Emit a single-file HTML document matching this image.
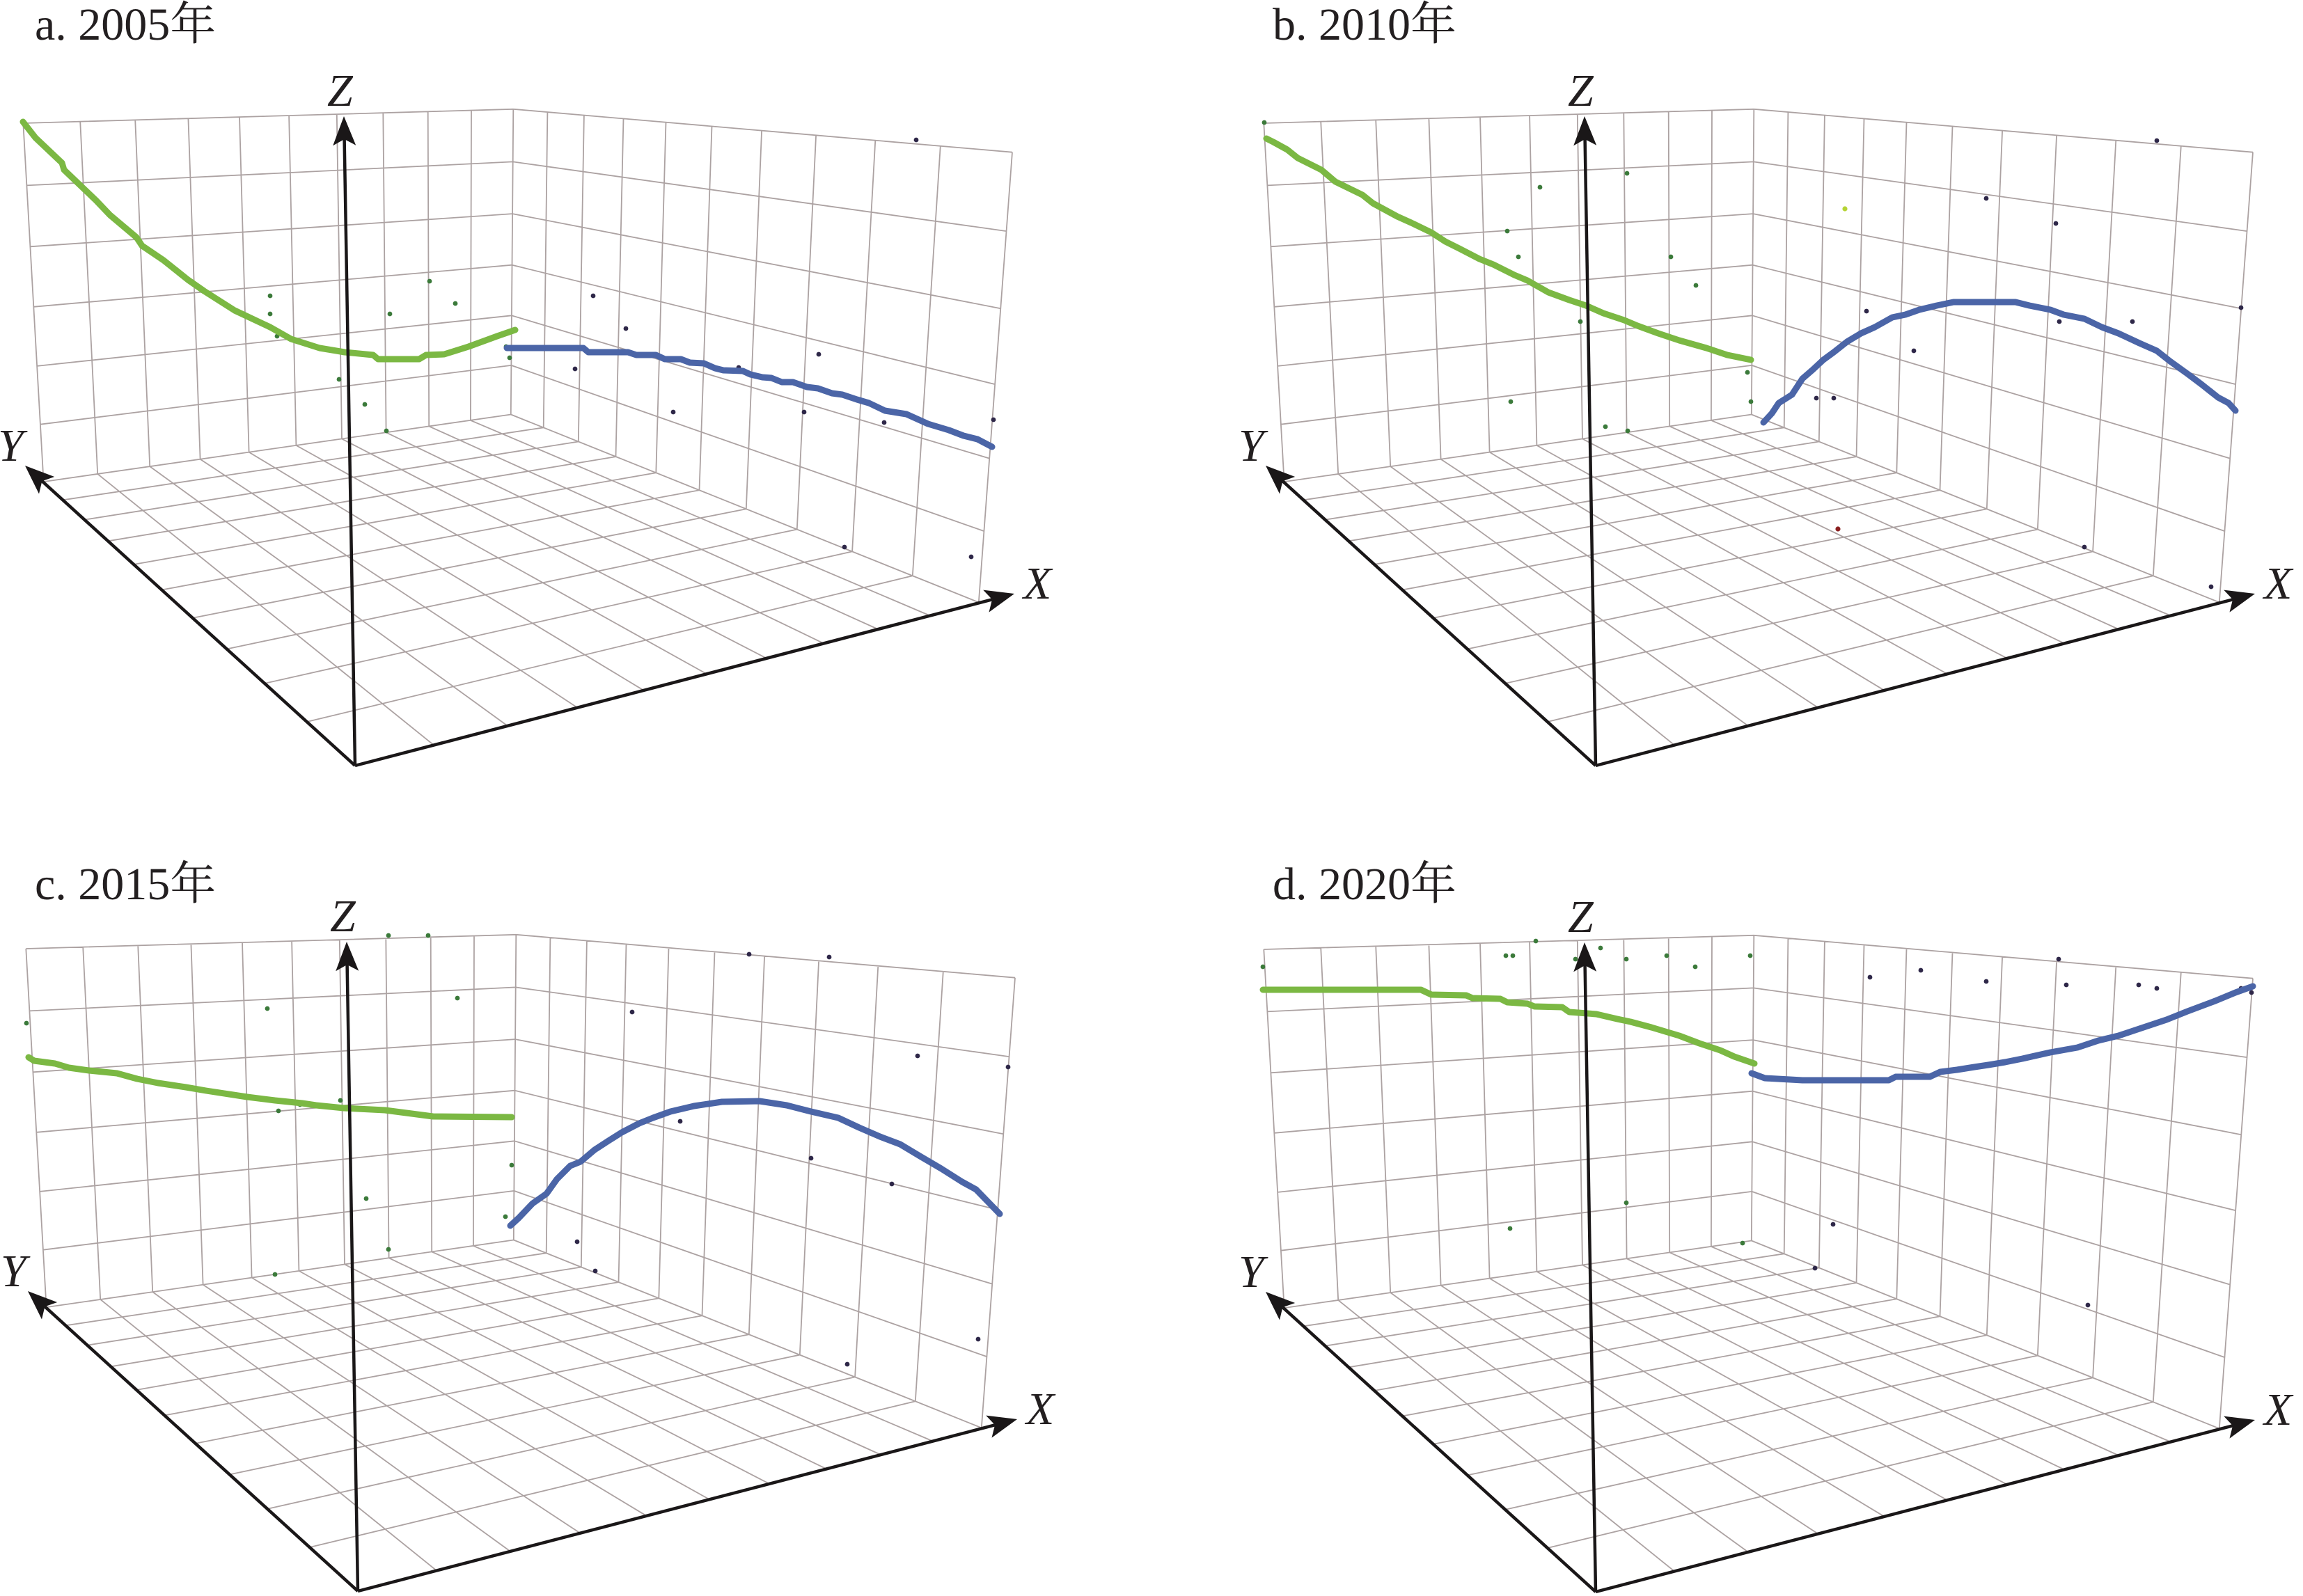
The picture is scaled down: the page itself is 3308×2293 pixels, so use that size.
<!DOCTYPE html>
<html><head><meta charset="utf-8">
<style>
html,body{margin:0;padding:0;background:#fff;}
svg{display:block;}
.t{font-family:"Liberation Serif","Noto Serif CJK SC",serif;font-size:66px;fill:#231f20;}
.ax{font-family:"Liberation Serif",serif;font-style:italic;font-size:66px;fill:#231f20;}
.g{fill:none;stroke:#7bb843;stroke-width:9;stroke-linejoin:round;stroke-linecap:round;}
.b{fill:none;stroke:#4b65a7;stroke-width:9;stroke-linejoin:round;stroke-linecap:round;}
.dg{fill:#3b7a3a;} .dn{fill:#2e2748;}
</style></head><body>
<svg id="s" width="3308" height="2293" viewBox="0 0 3308 2293" xmlns="http://www.w3.org/2000/svg">
<rect width="3308" height="2293" fill="#fff"/>
<g id="grids"></g>
<g id="dots">
<g class="dg">
<circle cx="388" cy="425" r="3.4"/><circle cx="388" cy="451" r="3.4"/><circle cx="398" cy="483" r="3.4"/><circle cx="434" cy="492" r="3.4"/><circle cx="560" cy="451" r="3.4"/><circle cx="617" cy="404" r="3.4"/><circle cx="654" cy="436" r="3.4"/><circle cx="487" cy="545" r="3.4"/><circle cx="524" cy="581" r="3.4"/><circle cx="555" cy="619" r="3.4"/><circle cx="727" cy="498" r="3.4"/><circle cx="732" cy="514" r="3.4"/>
<circle cx="1816" cy="176" r="3.4"/><circle cx="2337" cy="249" r="3.4"/><circle cx="2212" cy="269" r="3.4"/><circle cx="2165" cy="332" r="3.4"/><circle cx="2181" cy="369" r="3.4"/><circle cx="2400" cy="369" r="3.4"/><circle cx="2436" cy="410" r="3.4"/><circle cx="2270" cy="462" r="3.4"/><circle cx="2510" cy="535" r="3.4"/><circle cx="2515" cy="577" r="3.4"/><circle cx="2170" cy="577" r="3.4"/><circle cx="2306" cy="613" r="3.4"/><circle cx="2338" cy="619" r="3.4"/>
<circle cx="558" cy="1344" r="3.4"/><circle cx="615" cy="1344" r="3.4"/><circle cx="38" cy="1470" r="3.4"/><circle cx="384" cy="1449" r="3.4"/><circle cx="657" cy="1434" r="3.4"/><circle cx="489" cy="1581" r="3.4"/><circle cx="431" cy="1587" r="3.4"/><circle cx="400" cy="1596" r="3.4"/><circle cx="735" cy="1674" r="3.4"/><circle cx="526" cy="1722" r="3.4"/><circle cx="726" cy="1748" r="3.4"/><circle cx="558" cy="1795" r="3.4"/><circle cx="395" cy="1831" r="3.4"/>
<circle cx="1814" cy="1389" r="3.4"/><circle cx="2163" cy="1373" r="3.4"/><circle cx="2173" cy="1373" r="3.4"/><circle cx="2206" cy="1352" r="3.4"/><circle cx="2263" cy="1378" r="3.4"/><circle cx="2299" cy="1362" r="3.4"/><circle cx="2336" cy="1378" r="3.4"/><circle cx="2394" cy="1373" r="3.4"/><circle cx="2435" cy="1389" r="3.4"/><circle cx="2514" cy="1373" r="3.4"/><circle cx="2336" cy="1728" r="3.4"/><circle cx="2169" cy="1765" r="3.4"/><circle cx="2503" cy="1786" r="3.4"/>
</g>
<circle cx="2650" cy="300" r="3.6" fill="#b5d334"/>
<circle cx="2640" cy="760" r="3.6" fill="#8b2020"/>
<g class="dn">
<circle cx="1316" cy="201" r="3.4"/><circle cx="852" cy="425" r="3.4"/><circle cx="899" cy="472" r="3.4"/><circle cx="826" cy="530" r="3.4"/><circle cx="1176" cy="509" r="3.4"/><circle cx="1061" cy="528" r="3.4"/><circle cx="967" cy="592" r="3.4"/><circle cx="1155" cy="592" r="3.4"/><circle cx="1270" cy="607" r="3.4"/><circle cx="1427" cy="603" r="3.4"/><circle cx="1213" cy="786" r="3.4"/><circle cx="1395" cy="800" r="3.4"/>
<circle cx="3098" cy="202" r="3.4"/><circle cx="2853" cy="285" r="3.4"/><circle cx="2953" cy="321" r="3.4"/><circle cx="3219" cy="442" r="3.4"/><circle cx="2681" cy="447" r="3.4"/><circle cx="2958" cy="462" r="3.4"/><circle cx="3063" cy="462" r="3.4"/><circle cx="2749" cy="504" r="3.4"/><circle cx="2609" cy="572" r="3.4"/><circle cx="2634" cy="572" r="3.4"/><circle cx="2994" cy="786" r="3.4"/><circle cx="3176" cy="843" r="3.4"/>
<circle cx="1076" cy="1371" r="3.4"/><circle cx="1191" cy="1375" r="3.4"/><circle cx="908" cy="1454" r="3.4"/><circle cx="1318" cy="1517" r="3.4"/><circle cx="1448" cy="1533" r="3.4"/><circle cx="977" cy="1611" r="3.4"/><circle cx="1165" cy="1664" r="3.4"/><circle cx="1281" cy="1701" r="3.4"/><circle cx="829" cy="1784" r="3.4"/><circle cx="855" cy="1826" r="3.4"/><circle cx="1217" cy="1960" r="3.4"/><circle cx="1405" cy="1924" r="3.4"/>
<circle cx="2957" cy="1378" r="3.4"/><circle cx="2759" cy="1394" r="3.4"/><circle cx="2686" cy="1404" r="3.4"/><circle cx="2853" cy="1410" r="3.4"/><circle cx="2968" cy="1415" r="3.4"/><circle cx="3072" cy="1415" r="3.4"/><circle cx="3098" cy="1420" r="3.4"/><circle cx="3219" cy="1420" r="3.4"/><circle cx="3234" cy="1426" r="3.4"/><circle cx="2633" cy="1759" r="3.4"/><circle cx="2607" cy="1822" r="3.4"/><circle cx="2999" cy="1875" r="3.4"/>
</g>
</g>
<g id="curves">
<polyline class="g" points="33,175 51,198 89,234 92,244 138,288 158,309 196,341 204,353 235,374 270,402 293,418 337,446 388,470 418,487 459,500 495,506 536,510 543,516 602,516 612,510 638,509 673,498 714,483 740,474"/>
<polyline class="b" points="728,500 838,500 845,506 902,506 914,510 942,510 955,516 978,516 991,521 1011,522 1027,529 1039,532 1067,533 1078,538 1095,542 1108,543 1123,549 1139,549 1159,556 1175,558 1195,565 1210,567 1231,574 1248,579 1271,590 1302,595 1333,609 1363,618 1384,626 1404,631 1425,642"/>
<polyline class="g" points="1819,199 1829,204 1849,215 1864,227 1898,244 1918,261 1957,280 1972,292 2007,311 2027,320 2056,334 2076,347 2096,357 2125,372 2145,380 2175,395 2194,403 2224,420 2254,431 2278,439 2303,450 2333,460 2352,468 2382,479 2412,489 2451,500 2481,510 2515,517"/>
<polyline class="b" points="2533,607 2545,594 2555,579 2574,567 2589,544 2604,531 2619,517 2634,506 2653,491 2673,479 2693,470 2718,456 2737,452 2757,445 2782,439 2806,434 2895,434 2915,439 2945,445 2964,452 2994,458 3019,470 3043,479 3073,493 3098,504 3117,519 3142,537 3162,552 3186,571 3201,579 3211,590"/>
<polyline class="g" points="41,1519 49,1524 79,1528 99,1534 128,1538 168,1542 197,1550 227,1556 267,1562 296,1567 355,1576 395,1581 434,1585 454,1588 494,1592 553,1595 622,1604 735,1605"/>
<polyline class="b" points="733,1761 745,1750 765,1729 785,1715 800,1694 819,1675 834,1669 854,1652 874,1639 893,1627 918,1614 938,1606 963,1597 997,1589 1037,1583 1091,1582 1130,1588 1165,1597 1204,1606 1234,1620 1264,1633 1293,1644 1323,1662 1352,1679 1382,1698 1402,1709 1436,1744"/>
<polyline class="g" points="1814,1422 2041,1422 2056,1429 2106,1430 2115,1434 2155,1435 2165,1440 2194,1442 2204,1446 2244,1447 2254,1454 2293,1457 2323,1464 2342,1468 2372,1476 2392,1482 2412,1488 2441,1499 2471,1509 2491,1518 2520,1528"/>
<polyline class="b" points="2516,1542 2535,1549 2589,1552 2713,1552 2723,1547 2772,1547 2787,1540 2811,1537 2836,1533 2856,1530 2880,1526 2905,1521 2945,1512 2984,1505 3014,1495 3043,1488 3073,1478 3112,1465 3142,1453 3182,1438 3211,1426 3236,1417"/>
</g>
<g id="axes"></g>
<g id="labels">
<text class="t" x="50" y="57">a. 2005年</text>
<text class="t" x="1828" y="57">b. 2010年</text>
<text class="t" x="50" y="1292">c. 2015年</text>
<text class="t" x="1828" y="1292">d. 2020年</text>
<text class="ax" x="470" y="152">Z</text><text class="ax" x="-3" y="662">Y</text><text class="ax" x="1470" y="860">X</text>
<text class="ax" x="2252" y="152">Z</text><text class="ax" x="1779" y="662">Y</text><text class="ax" x="3252" y="860">X</text>
<text class="ax" x="474" y="1338">Z</text><text class="ax" x="1" y="1848">Y</text><text class="ax" x="1474" y="2046">X</text>
<text class="ax" x="2252" y="1339">Z</text><text class="ax" x="1779" y="1849">Y</text><text class="ax" x="3252" y="2047">X</text>
</g>
</svg>
<script>
(function(){
var NS="http://www.w3.org/2000/svg";
var C=[[0,0,0,510,1100,4],[10,0,0,1408,865,4],[0,10,0,60,692,4],[10,10,0,735,595,4],[0,10,6,35,176,4],[10,10,6,735,157,4],[10,0,6,1455,219,4]];
var lt=[35,113,192,270,344,417,485,552,615,678,735];
var lb=[60,139,213,287,360,428,490,554,615,678,735];
var rt=[735,788,839,897,954,1021,1094,1173,1256,1350,1455];
var i,j,k;
for(i=1;i<10;i++){
 C.push([i,10,6,lt[i],176-19*(lt[i]-35)/700,1]);
 C.push([i,10,0,lb[i],692-97*(lb[i]-60)/675,1]);
 C.push([10,10-i,6,rt[i],157+62*(rt[i]-735)/720,1]);
}
var ya=[[444,1037],[388,983],[329,931],[283,890],[237,849],[196,812],[158,776],[125,746],[94,719]];
var xa=[[612,1071],[724,1040],[826,1015],[919,994],[1010,967],[1095,946],[1183,922],[1254,903],[1331,883]];
for(i=0;i<9;i++){C.push([0,i+1,0,ya[i][0],ya[i][1],1]);C.push([i+1,0,0,xa[i][0],xa[i][1],1]);}
var le=[176,266,354,443,526,610],be=[157,235,308,381,454,527],re=[219,329,443,553,657,762];
for(i=1;i<6;i++){
 C.push([0,10,6-i,35+25*(le[i]-176)/516,le[i],1]);
 C.push([10,10,6-i,735,be[i],1]);
 C.push([10,0,6-i,1455-47*(re[i]-219)/646,re[i],1]);
}
var n=11,M=[],v=[];
for(i=0;i<n;i++){M.push([]);v.push(0);for(j=0;j<n;j++)M[i].push(0);}
C.forEach(function(c){
 var X=c[0],Y=c[1],Z=c[2],u=(c[3]-700)/700,w=(c[4]-600)/600,wt=c[5];
 var rows=[[[X,Y,Z,1,0,0,0,0,-u*X,-u*Y,-u*Z],u],[[0,0,0,0,X,Y,Z,1,-w*X,-w*Y,-w*Z],w]];
 rows.forEach(function(rb){var r=rb[0],b=rb[1];
  for(var a=0;a<n;a++){v[a]+=wt*r[a]*b;for(var q=0;q<n;q++)M[a][q]+=wt*r[a]*r[q];}});
});
for(i=0;i<n;i++){
 var p=i;for(k=i+1;k<n;k++)if(Math.abs(M[k][i])>Math.abs(M[p][i]))p=k;
 var tmp=M[i];M[i]=M[p];M[p]=tmp;tmp=v[i];v[i]=v[p];v[p]=tmp;
 for(k=i+1;k<n;k++){var f=M[k][i]/M[i][i];for(j=i;j<n;j++)M[k][j]-=f*M[i][j];v[k]-=f*v[i];}
}
var P=new Array(n);
for(i=n-1;i>=0;i--){var s=v[i];for(j=i+1;j<n;j++)s-=M[i][j]*P[j];P[i]=s/M[i][i];}
function pr(X,Y,Z){var d=P[8]*X+P[9]*Y+P[10]*Z+1;return[(P[0]*X+P[1]*Y+P[2]*Z+P[3])/d*700+700,(P[4]*X+P[5]*Y+P[6]*Z+P[7])/d*600+600];}
var d="";
function L(a,b){var p1=pr(a[0],a[1],a[2]),q1=pr(b[0],b[1],b[2]);d+="M"+p1[0].toFixed(1)+" "+p1[1].toFixed(1)+"L"+q1[0].toFixed(1)+" "+q1[1].toFixed(1);}
for(i=0;i<=10;i++){
 L([i,10,0],[i,10,6]);
 L([10,i,0],[10,i,6]);
 L([i,0,0],[i,10,0]);
 L([0,i,0],[10,i,0]);
}
for(i=0;i<=6;i++){L([0,10,i],[10,10,i]);L([10,0,i],[10,10,i]);}
var offs=[[0,0],[1782,0],[4,1186],[1782,1187]];
var G=document.getElementById("grids"),A=document.getElementById("axes");
function arrow(o,t){
 var dx=t[0]-o[0],dy=t[1]-o[1],l=Math.sqrt(dx*dx+dy*dy),ux=dx/l,uy=dy/l,px=-uy,py=ux;
 var H=42,W=16.5,N=9;
 var bx=t[0]-ux*H,by=t[1]-uy*H,nx=t[0]-ux*(H-N),ny=t[1]-uy*(H-N);
 return {s:"M"+o[0]+" "+o[1]+"L"+nx.toFixed(1)+" "+ny.toFixed(1),
  h:[t[0],t[1],(bx+px*W).toFixed(1),(by+py*W).toFixed(1),nx.toFixed(1),ny.toFixed(1),(bx-px*W).toFixed(1),(by-py*W).toFixed(1)].join(" ")};
}
var O=[510,1100],tips=[[494,167],[36,669],[1457,853]];
offs.forEach(function(o){
 var g=document.createElementNS(NS,"path");
 g.setAttribute("d",d);g.setAttribute("fill","none");g.setAttribute("stroke","#aca2a2");g.setAttribute("stroke-width","1.8");
 g.setAttribute("transform","translate("+o[0]+","+o[1]+")");
 G.appendChild(g);
 var ga=document.createElementNS(NS,"g");ga.setAttribute("transform","translate("+o[0]+","+o[1]+")");
 tips.forEach(function(t){
  var a=arrow(O,t);
  var sp=document.createElementNS(NS,"path");sp.setAttribute("d",a.s);sp.setAttribute("stroke","#1a1718");sp.setAttribute("stroke-width","4.5");sp.setAttribute("fill","none");
  ga.appendChild(sp);
  var hp=document.createElementNS(NS,"polygon");hp.setAttribute("points",a.h);hp.setAttribute("fill","#1a1718");
  ga.appendChild(hp);
 });
 A.appendChild(ga);
});
})();
</script>
</body></html>
